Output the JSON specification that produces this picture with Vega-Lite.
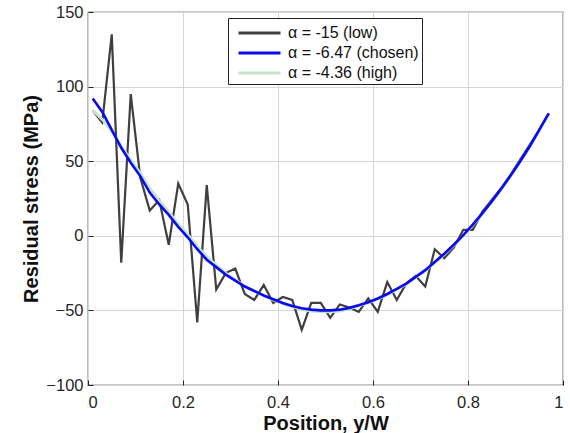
{
  "$schema": "https://vega.github.io/schema/vega-lite/v6.json",
  "width": 475,
  "height": 373,
  "autosize": {"type": "none"},
  "padding": {"left": 88, "top": 12, "right": 7, "bottom": 48},
  "background": "white",
  "config": {
    "font": "Liberation Sans",
    "view": {"stroke": "#222222", "strokeWidth": 1.2},
    "axis": {
      "labelFont": "Liberation Sans",
      "labelFontSize": 16.5,
      "labelColor": "#262626",
      "titleFont": "Liberation Sans",
      "titleFontSize": 20,
      "titleFontWeight": "bold",
      "titleColor": "#111111",
      "gridColor": "#d6d6d6",
      "gridWidth": 1,
      "domain": false,
      "tickColor": "#222222"
    }
  },
  "datasets": {
    "pts": [
      {"x": 0.01, "y": 84, "s": "α = -15 (low)"},
      {"x": 0.03, "y": 76, "s": "α = -15 (low)"},
      {"x": 0.05, "y": 135, "s": "α = -15 (low)"},
      {"x": 0.07, "y": -18, "s": "α = -15 (low)"},
      {"x": 0.09, "y": 95, "s": "α = -15 (low)"},
      {"x": 0.11, "y": 39, "s": "α = -15 (low)"},
      {"x": 0.13, "y": 17, "s": "α = -15 (low)"},
      {"x": 0.15, "y": 24, "s": "α = -15 (low)"},
      {"x": 0.17, "y": -6, "s": "α = -15 (low)"},
      {"x": 0.19, "y": 35, "s": "α = -15 (low)"},
      {"x": 0.21, "y": 21, "s": "α = -15 (low)"},
      {"x": 0.23, "y": -58, "s": "α = -15 (low)"},
      {"x": 0.25, "y": 34, "s": "α = -15 (low)"},
      {"x": 0.27, "y": -36, "s": "α = -15 (low)"},
      {"x": 0.29, "y": -25, "s": "α = -15 (low)"},
      {"x": 0.31, "y": -22, "s": "α = -15 (low)"},
      {"x": 0.33, "y": -39, "s": "α = -15 (low)"},
      {"x": 0.35, "y": -43, "s": "α = -15 (low)"},
      {"x": 0.37, "y": -33, "s": "α = -15 (low)"},
      {"x": 0.39, "y": -45, "s": "α = -15 (low)"},
      {"x": 0.41, "y": -41, "s": "α = -15 (low)"},
      {"x": 0.43, "y": -43, "s": "α = -15 (low)"},
      {"x": 0.45, "y": -63, "s": "α = -15 (low)"},
      {"x": 0.47, "y": -45, "s": "α = -15 (low)"},
      {"x": 0.49, "y": -45, "s": "α = -15 (low)"},
      {"x": 0.51, "y": -55, "s": "α = -15 (low)"},
      {"x": 0.53, "y": -46, "s": "α = -15 (low)"},
      {"x": 0.55, "y": -48, "s": "α = -15 (low)"},
      {"x": 0.57, "y": -51, "s": "α = -15 (low)"},
      {"x": 0.59, "y": -42, "s": "α = -15 (low)"},
      {"x": 0.61, "y": -51, "s": "α = -15 (low)"},
      {"x": 0.63, "y": -31, "s": "α = -15 (low)"},
      {"x": 0.65, "y": -43, "s": "α = -15 (low)"},
      {"x": 0.67, "y": -32, "s": "α = -15 (low)"},
      {"x": 0.69, "y": -27, "s": "α = -15 (low)"},
      {"x": 0.71, "y": -34, "s": "α = -15 (low)"},
      {"x": 0.73, "y": -9, "s": "α = -15 (low)"},
      {"x": 0.75, "y": -15, "s": "α = -15 (low)"},
      {"x": 0.77, "y": -8, "s": "α = -15 (low)"},
      {"x": 0.79, "y": 4, "s": "α = -15 (low)"},
      {"x": 0.81, "y": 4, "s": "α = -15 (low)"},
      {"x": 0.83, "y": 16, "s": "α = -15 (low)"},
      {"x": 0.85, "y": 24, "s": "α = -15 (low)"},
      {"x": 0.87, "y": 32, "s": "α = -15 (low)"},
      {"x": 0.89, "y": 41, "s": "α = -15 (low)"},
      {"x": 0.91, "y": 51, "s": "α = -15 (low)"},
      {"x": 0.93, "y": 61, "s": "α = -15 (low)"},
      {"x": 0.95, "y": 71, "s": "α = -15 (low)"},
      {"x": 0.97, "y": 82, "s": "α = -15 (low)"},

      {"x": 0.01, "y": 84, "s": "α = -4.36 (high)"},
      {"x": 0.03, "y": 78, "s": "α = -4.36 (high)"},
      {"x": 0.05, "y": 70, "s": "α = -4.36 (high)"},
      {"x": 0.07, "y": 60, "s": "α = -4.36 (high)"},
      {"x": 0.09, "y": 51, "s": "α = -4.36 (high)"},
      {"x": 0.11, "y": 42, "s": "α = -4.36 (high)"},
      {"x": 0.13, "y": 32, "s": "α = -4.36 (high)"},
      {"x": 0.15, "y": 23.5, "s": "α = -4.36 (high)"},
      {"x": 0.17, "y": 16, "s": "α = -4.36 (high)"},
      {"x": 0.19, "y": 8, "s": "α = -4.36 (high)"},
      {"x": 0.21, "y": 1, "s": "α = -4.36 (high)"},
      {"x": 0.23, "y": -7, "s": "α = -4.36 (high)"},
      {"x": 0.25, "y": -14, "s": "α = -4.36 (high)"},
      {"x": 0.27, "y": -19.5, "s": "α = -4.36 (high)"},
      {"x": 0.29, "y": -25, "s": "α = -4.36 (high)"},
      {"x": 0.31, "y": -29.5, "s": "α = -4.36 (high)"},
      {"x": 0.33, "y": -33.5, "s": "α = -4.36 (high)"},
      {"x": 0.35, "y": -37, "s": "α = -4.36 (high)"},
      {"x": 0.37, "y": -40, "s": "α = -4.36 (high)"},
      {"x": 0.39, "y": -43, "s": "α = -4.36 (high)"},
      {"x": 0.41, "y": -45.5, "s": "α = -4.36 (high)"},
      {"x": 0.43, "y": -47.5, "s": "α = -4.36 (high)"},
      {"x": 0.45, "y": -49.5, "s": "α = -4.36 (high)"},
      {"x": 0.47, "y": -50.5, "s": "α = -4.36 (high)"},
      {"x": 0.49, "y": -51, "s": "α = -4.36 (high)"},
      {"x": 0.51, "y": -51, "s": "α = -4.36 (high)"},
      {"x": 0.53, "y": -50.5, "s": "α = -4.36 (high)"},
      {"x": 0.55, "y": -49, "s": "α = -4.36 (high)"},
      {"x": 0.57, "y": -47, "s": "α = -4.36 (high)"},
      {"x": 0.59, "y": -45, "s": "α = -4.36 (high)"},
      {"x": 0.61, "y": -42.5, "s": "α = -4.36 (high)"},
      {"x": 0.63, "y": -39.5, "s": "α = -4.36 (high)"},
      {"x": 0.65, "y": -36, "s": "α = -4.36 (high)"},
      {"x": 0.67, "y": -32.5, "s": "α = -4.36 (high)"},
      {"x": 0.69, "y": -28, "s": "α = -4.36 (high)"},
      {"x": 0.71, "y": -23.5, "s": "α = -4.36 (high)"},
      {"x": 0.73, "y": -18, "s": "α = -4.36 (high)"},
      {"x": 0.75, "y": -12.5, "s": "α = -4.36 (high)"},
      {"x": 0.77, "y": -6.5, "s": "α = -4.36 (high)"},
      {"x": 0.79, "y": 0, "s": "α = -4.36 (high)"},
      {"x": 0.81, "y": 7, "s": "α = -4.36 (high)"},
      {"x": 0.83, "y": 14.5, "s": "α = -4.36 (high)"},
      {"x": 0.85, "y": 22.5, "s": "α = -4.36 (high)"},
      {"x": 0.87, "y": 31, "s": "α = -4.36 (high)"},
      {"x": 0.89, "y": 40, "s": "α = -4.36 (high)"},
      {"x": 0.91, "y": 49.5, "s": "α = -4.36 (high)"},
      {"x": 0.93, "y": 59.5, "s": "α = -4.36 (high)"},
      {"x": 0.95, "y": 70.5, "s": "α = -4.36 (high)"},
      {"x": 0.97, "y": 82, "s": "α = -4.36 (high)"},

      {"x": 0.01, "y": 92, "s": "α = -6.47 (chosen)"},
      {"x": 0.03, "y": 83, "s": "α = -6.47 (chosen)"},
      {"x": 0.05, "y": 71, "s": "α = -6.47 (chosen)"},
      {"x": 0.07, "y": 59, "s": "α = -6.47 (chosen)"},
      {"x": 0.09, "y": 49, "s": "α = -6.47 (chosen)"},
      {"x": 0.11, "y": 40, "s": "α = -6.47 (chosen)"},
      {"x": 0.13, "y": 29, "s": "α = -6.47 (chosen)"},
      {"x": 0.15, "y": 21, "s": "α = -6.47 (chosen)"},
      {"x": 0.17, "y": 14, "s": "α = -6.47 (chosen)"},
      {"x": 0.19, "y": 6, "s": "α = -6.47 (chosen)"},
      {"x": 0.21, "y": -1, "s": "α = -6.47 (chosen)"},
      {"x": 0.23, "y": -9, "s": "α = -6.47 (chosen)"},
      {"x": 0.25, "y": -16, "s": "α = -6.47 (chosen)"},
      {"x": 0.27, "y": -21, "s": "α = -6.47 (chosen)"},
      {"x": 0.29, "y": -26, "s": "α = -6.47 (chosen)"},
      {"x": 0.31, "y": -30, "s": "α = -6.47 (chosen)"},
      {"x": 0.33, "y": -34, "s": "α = -6.47 (chosen)"},
      {"x": 0.35, "y": -37, "s": "α = -6.47 (chosen)"},
      {"x": 0.37, "y": -40, "s": "α = -6.47 (chosen)"},
      {"x": 0.39, "y": -42.5, "s": "α = -6.47 (chosen)"},
      {"x": 0.41, "y": -45, "s": "α = -6.47 (chosen)"},
      {"x": 0.43, "y": -47, "s": "α = -6.47 (chosen)"},
      {"x": 0.45, "y": -48.5, "s": "α = -6.47 (chosen)"},
      {"x": 0.47, "y": -49.5, "s": "α = -6.47 (chosen)"},
      {"x": 0.49, "y": -50, "s": "α = -6.47 (chosen)"},
      {"x": 0.51, "y": -50, "s": "α = -6.47 (chosen)"},
      {"x": 0.53, "y": -49.5, "s": "α = -6.47 (chosen)"},
      {"x": 0.55, "y": -48.3, "s": "α = -6.47 (chosen)"},
      {"x": 0.57, "y": -46.5, "s": "α = -6.47 (chosen)"},
      {"x": 0.59, "y": -44.5, "s": "α = -6.47 (chosen)"},
      {"x": 0.61, "y": -42, "s": "α = -6.47 (chosen)"},
      {"x": 0.63, "y": -39, "s": "α = -6.47 (chosen)"},
      {"x": 0.65, "y": -35.5, "s": "α = -6.47 (chosen)"},
      {"x": 0.67, "y": -32, "s": "α = -6.47 (chosen)"},
      {"x": 0.69, "y": -27.5, "s": "α = -6.47 (chosen)"},
      {"x": 0.71, "y": -23, "s": "α = -6.47 (chosen)"},
      {"x": 0.73, "y": -17.5, "s": "α = -6.47 (chosen)"},
      {"x": 0.75, "y": -12, "s": "α = -6.47 (chosen)"},
      {"x": 0.77, "y": -6, "s": "α = -6.47 (chosen)"},
      {"x": 0.79, "y": 0.5, "s": "α = -6.47 (chosen)"},
      {"x": 0.81, "y": 7.5, "s": "α = -6.47 (chosen)"},
      {"x": 0.83, "y": 15, "s": "α = -6.47 (chosen)"},
      {"x": 0.85, "y": 23, "s": "α = -6.47 (chosen)"},
      {"x": 0.87, "y": 31.5, "s": "α = -6.47 (chosen)"},
      {"x": 0.89, "y": 40.5, "s": "α = -6.47 (chosen)"},
      {"x": 0.91, "y": 50, "s": "α = -6.47 (chosen)"},
      {"x": 0.93, "y": 60, "s": "α = -6.47 (chosen)"},
      {"x": 0.95, "y": 71, "s": "α = -6.47 (chosen)"},
      {"x": 0.97, "y": 82, "s": "α = -6.47 (chosen)"}
    ]
  },
  "data": {"name": "pts"},
  "layer": [
    {
      "transform": [{"filter": "datum.s === 'α = -15 (low)'"}],
      "mark": {"type": "line", "strokeWidth": 2.2},
      "encoding": {
        "x": {"field": "x", "type": "quantitative", "scale": {"domain": [0, 1], "nice": false},
              "axis": {"title": "Position, y/W", "values": [0, 0.2, 0.4, 0.6, 0.8, 1], "format": "~g", "tickSize": -5, "labelPadding": 14, "titlePadding": 3}},
        "y": {"field": "y", "type": "quantitative", "scale": {"domain": [-100, 150], "nice": false},
              "axis": {"title": "Residual stress (MPa)", "values": [-100, -50, 0, 50, 100, 150], "tickSize": -5, "labelPadding": 10, "titlePadding": 4}},
        "color": {"field": "s", "type": "nominal",
                  "scale": {"domain": ["α = -15 (low)", "α = -6.47 (chosen)", "α = -4.36 (high)"], "range": ["#3f3f3f", "#0a0af0", "#c6e4c6"]},
                  "legend": {"title": null, "orient": "none", "legendX": 140, "legendY": 6,
                             "symbolType": "M-2,0H2", "symbolSize": 441, "symbolStrokeWidth": 2.8, "symbolOffset": 16.5,
                             "labelFontSize": 16, "labelFont": "Liberation Sans", "labelColor": "#111111",
                             "rowPadding": 0, "padding": 3, "strokeColor": "#222222", "fillColor": "white", "labelOffset": 16.5}}
      }
    },
    {
      "transform": [{"filter": "datum.s === 'α = -4.36 (high)'"}],
      "mark": {"type": "line", "strokeWidth": 2.8},
      "encoding": {
        "x": {"field": "x", "type": "quantitative"},
        "y": {"field": "y", "type": "quantitative"},
        "color": {"field": "s", "type": "nominal"}
      }
    },
    {
      "transform": [{"filter": "datum.s === 'α = -6.47 (chosen)'"}],
      "mark": {"type": "line", "strokeWidth": 2.6},
      "encoding": {
        "x": {"field": "x", "type": "quantitative"},
        "y": {"field": "y", "type": "quantitative"},
        "color": {"field": "s", "type": "nominal"}
      }
    }
  ]
}
